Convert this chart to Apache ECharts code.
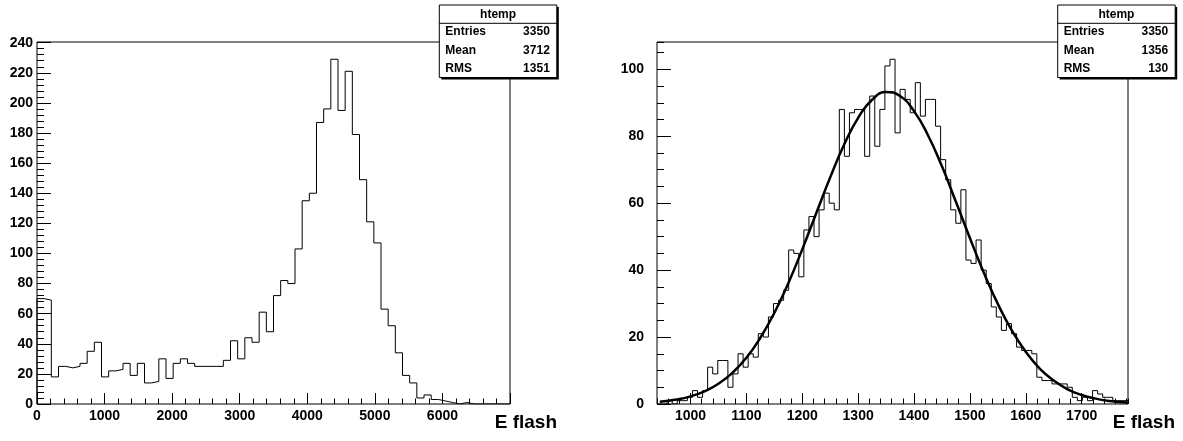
<!DOCTYPE html>
<html>
<head>
<meta charset="utf-8">
<script src="https://cdn.jsdelivr.net/npm/echarts@6/dist/echarts.min.js"></script>
<style>
  html, body { margin: 0; padding: 0; background: #fff; }
  #main { width: 1183px; height: 441px; }
</style>
</head>
<body>
<div id="main"></div>
<script>
// left histogram: E flash, 66 bins over [0, 7000]
var leftRange = [0, 7000];
var leftCounts = [70, 69, 18, 25, 24, 25, 27, 35, 41, 18,
    22, 23, 27, 19, 27, 14, 15, 30, 17, 27,
    30, 27, 25, 25, 25, 25, 29, 42, 30, 44,
    41, 61, 48, 72, 82, 80, 103, 135, 140, 187,
    196, 229, 195, 221, 179, 149, 121, 107, 63, 52,
    34, 19, 14, 4, 6, 3, 2, 1, 0, 1,
    0, 0, 0, 0, 0, 0];

// right histogram: E flash, 93 bins over [940, 1783]
var rightRange = [940, 1783];
var rightCounts = [0, 0, 1, 0, 1, 1, 2, 4, 2, 4,
    11, 9, 13, 13, 5, 9, 15, 11, 15, 14,
    21, 20, 26, 30, 31, 34, 46, 45, 38, 52,
    56, 50, 58, 63, 60, 58, 88, 74, 87, 88,
    88, 74, 92, 77, 88, 101, 103, 81, 94, 91,
    87, 96, 86, 91, 91, 83, 73, 67, 58, 54,
    64, 43, 42, 49, 40, 36, 29, 26, 22, 24,
    21, 17, 16, 16, 15, 8, 7, 7, 6, 6,
    6, 5, 2, 1, 2, 1, 4, 3, 2, 2, 1, 1, 1];

// fitted curve
var fitX = [945, 975, 1000, 1025, 1050, 1075, 1100, 1125, 1150, 1175, 1200, 1225, 1250, 1275, 1300, 1325,
    1350, 1375, 1400, 1425, 1450, 1475, 1500, 1525, 1550, 1575, 1600, 1625, 1650, 1675, 1700, 1725, 1750, 1775, 1782];
var fitY = [0.66, 1.33, 2.29, 3.79, 6.05, 9.31, 13.8, 19.8, 27.2, 36.1, 46.2, 57.0, 67.7, 77.5, 85.5, 90.9,
    93.2, 92.0, 87.5, 80.3, 71.0, 60.4, 49.6, 39.2, 29.9, 22.0, 15.6, 10.6, 7.0, 4.4, 2.7, 1.6, 0.9, 0.5, 0.41];

var statNames = ['Entries', 'Mean', 'RMS'];
var leftStats = ['3350', '3712', '1351'];
var rightStats = ['3350', '1356', '130'];

var FONT = '"Liberation Sans", Arial, Helvetica, sans-serif';

function stepData(range, counts) {
    var w = (range[1] - range[0]) / counts.length;
    var pts = [[range[0], 0]];
    counts.forEach(function (c, i) {
        pts.push([range[0] + i * w, c]);
    });
    pts.push([range[1], 0]);
    return pts;
}

function statBox(x, title, vals) {
    var y = 5, w = 117.5, h = 72.5;
    var f = 'bold 12px ' + FONT;
    var els = [
        { type: 'rect', z: 100, shape: { x: x + 2, y: y + 2, width: w, height: h }, style: { fill: '#000' } },
        { type: 'rect', z: 101, shape: { x: x, y: y, width: w, height: h }, style: { fill: '#fff', stroke: '#000', lineWidth: 1 } },
        { type: 'line', z: 102, shape: { x1: x, y1: y + 18.3, x2: x + w, y2: y + 18.3 }, style: { stroke: '#000', lineWidth: 1 } },
        { type: 'text', z: 102, x: x + w / 2, y: y + 9.5,
          style: { text: title, font: f, fill: '#000', align: 'center', verticalAlign: 'middle', textAlign: 'center', textVerticalAlign: 'middle' } }
    ];
    statNames.forEach(function (n, i) {
        var ty = y + 27 + 18.3 * i;
        els.push({ type: 'text', z: 102, x: x + 6, y: ty,
            style: { text: n, font: f, fill: '#000', align: 'left', verticalAlign: 'middle', textAlign: 'left', textVerticalAlign: 'middle' } });
        els.push({ type: 'text', z: 102, x: x + w - 7, y: ty,
            style: { text: vals[i], font: f, fill: '#000', align: 'right', verticalAlign: 'middle', textAlign: 'right', textVerticalAlign: 'middle' } });
    });
    return els;
}

function axisTitle(x) {
    return { type: 'text', z: 102, x: x, y: 423,
        style: { text: 'E flash', font: 'bold 19px ' + FONT, fill: '#000', align: 'right', verticalAlign: 'middle', textAlign: 'right', textVerticalAlign: 'middle' } };
}

function plain(v) { return String(v); }

var labelStyle = { color: '#000', fontWeight: 'bold', fontSize: 14, fontFamily: FONT, formatter: plain };
var tickLine = { color: '#000', width: 1 };

var myChart = echarts.init(document.getElementById('main'));
var option = {
    animation: false,
    backgroundColor: '#fff',
    grid: [
        { left: 37, top: 42, width: 473, height: 362, show: true, borderColor: '#000', borderWidth: 1, backgroundColor: 'transparent' },
        { left: 657, top: 42, width: 471, height: 362, show: true, borderColor: '#000', borderWidth: 1, backgroundColor: 'transparent' }
    ],
    xAxis: [
        {
            gridIndex: 0, type: 'value', min: leftRange[0], max: leftRange[1], interval: 1000,
            axisLine: { show: false, onZero: false },
            axisTick: { inside: true, length: 11, lineStyle: tickLine },
            minorTick: { show: true, splitNumber: 5, length: 5.5, lineStyle: tickLine },
            axisLabel: Object.assign({ margin: 5, showMaxLabel: false }, labelStyle),
            splitLine: { show: false }
        },
        {
            // minor ticks of the right plot
            gridIndex: 1, type: 'value', position: 'bottom', min: rightRange[0], max: rightRange[1], interval: 20,
            axisLine: { show: false, onZero: false },
            axisTick: { inside: true, length: 5.5, lineStyle: tickLine },
            axisLabel: { show: false },
            splitLine: { show: false }
        },
        {
            gridIndex: 1, type: 'value', position: 'bottom', min: rightRange[0], max: rightRange[1], splitNumber: 8,
            axisLine: { show: false, onZero: false },
            axisTick: { inside: true, length: 11, lineStyle: tickLine },
            axisLabel: Object.assign({ margin: 5, showMinLabel: false, showMaxLabel: false }, labelStyle),
            splitLine: { show: false }
        }
    ],
    yAxis: [
        {
            gridIndex: 0, type: 'value', min: 0, max: 240.45, interval: 20,
            axisLine: { show: false, onZero: false },
            axisTick: { inside: true, length: 14, lineStyle: tickLine },
            minorTick: { show: true, splitNumber: 5, length: 7, lineStyle: tickLine },
            axisLabel: Object.assign({ margin: 4, showMaxLabel: false }, labelStyle),
            splitLine: { show: false }
        },
        {
            gridIndex: 1, type: 'value', position: 'left', min: 0, max: 108.15, interval: 5,
            axisLine: { show: false, onZero: false },
            axisTick: { inside: true, length: 7, lineStyle: tickLine },
            axisLabel: { show: false },
            splitLine: { show: false }
        },
        {
            gridIndex: 1, type: 'value', position: 'left', min: 0, max: 108.15, interval: 20,
            axisLine: { show: false, onZero: false },
            axisTick: { inside: true, length: 14, lineStyle: tickLine },
            axisLabel: Object.assign({ margin: 13, showMaxLabel: false }, labelStyle),
            splitLine: { show: false }
        }
    ],
    series: [
        {
            name: 'htemp', type: 'line', xAxisIndex: 0, yAxisIndex: 0,
            step: 'end', showSymbol: false, silent: true,
            lineStyle: { color: '#000', width: 1 },
            data: stepData(leftRange, leftCounts)
        },
        {
            name: 'htemp', type: 'line', xAxisIndex: 2, yAxisIndex: 2,
            step: 'end', showSymbol: false, silent: true,
            lineStyle: { color: '#000', width: 1 },
            data: stepData(rightRange, rightCounts)
        },
        {
            name: 'fit', type: 'line', xAxisIndex: 2, yAxisIndex: 2,
            smooth: 0.5, showSymbol: false, silent: true,
            lineStyle: { color: '#000', width: 2.5 },
            data: fitX.map(function (x, i) { return [x, fitY[i]]; })
        }
    ],
    graphic: [].concat(
        statBox(439.3, 'htemp', leftStats),
        statBox(1057.7, 'htemp', rightStats),
        [axisTitle(557), axisTitle(1175)]
    )
};
myChart.setOption(option);
</script>
</body>
</html>
